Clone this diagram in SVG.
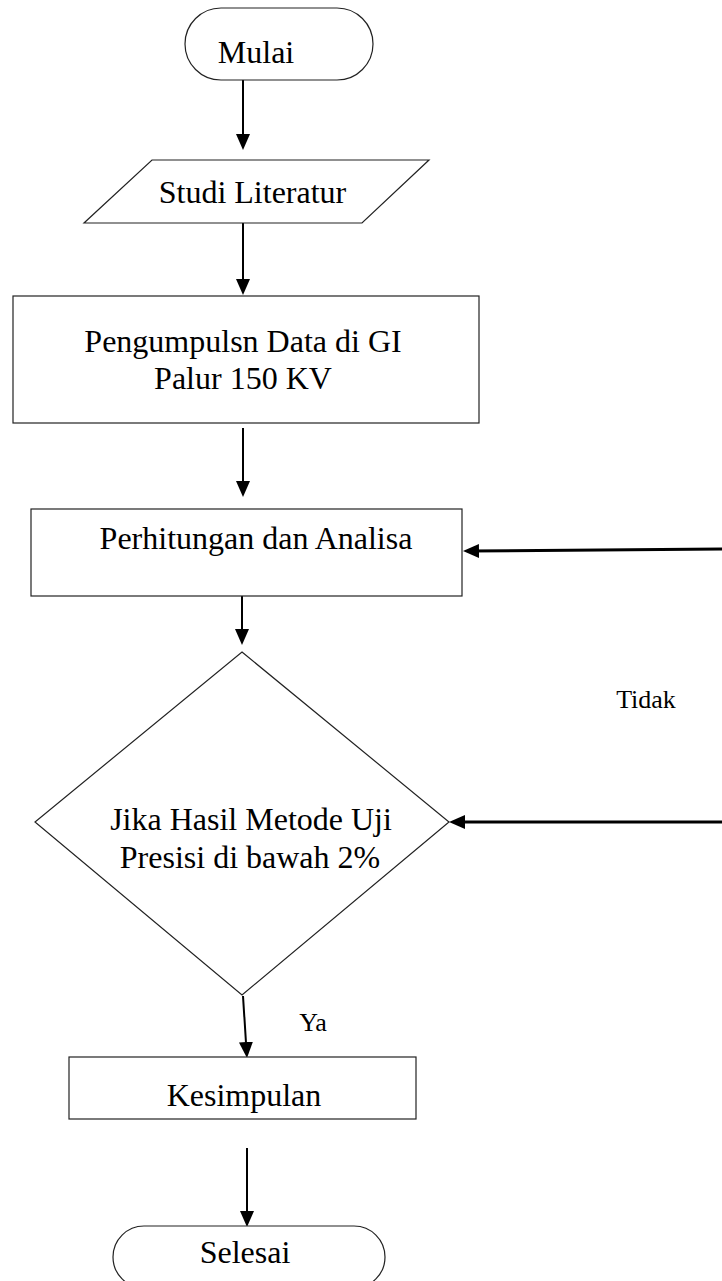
<svg xmlns="http://www.w3.org/2000/svg" width="722" height="1281" viewBox="0 0 722 1281">
<style>
.shape{fill:#fff;stroke:#222;stroke-width:1.2}
.lbl{font-family:"Liberation Serif","Times New Roman",serif;font-size:32px;fill:#000;text-anchor:middle}
.sm{font-family:"Liberation Serif","Times New Roman",serif;font-size:26px;fill:#000;text-anchor:middle}
.conn{fill:none;stroke:#000;stroke-width:2;marker-end:url(#ah)}
.thick{stroke-width:3}
</style>
<defs>
<marker id="ah" markerUnits="userSpaceOnUse" markerWidth="16" markerHeight="16" refX="10" refY="7" orient="auto">
<path d="M0,0 L16,7 L0,14 z" fill="#000"/>
</marker>
</defs>
<rect width="722" height="1281" fill="#fff"/>
<g id="connectors">
<line class="conn" x1="243" y1="80" x2="243" y2="144"/>
<line class="conn" x1="243" y1="223" x2="243" y2="289"/>
<line class="conn" x1="243" y1="428" x2="243" y2="491"/>
<line class="conn" x1="242" y1="596" x2="242" y2="639"/>
<line class="conn" x1="243" y1="996" x2="246.6" y2="1052"/>
<line class="conn" x1="247" y1="1148" x2="247" y2="1221"/>
<line class="conn thick" x1="722" y1="549" x2="469" y2="551"/>
<line class="conn thick" x1="722" y1="822" x2="455" y2="822"/>
</g>
<g id="mulai">
<rect class="shape" x="185" y="8" width="188" height="72" rx="36" ry="36"/>
<text class="lbl" x="256" y="63">Mulai</text>
</g>
<g id="studi">
<polygon class="shape" points="152,160 429,160 362,223 84,223"/>
<text class="lbl" x="252.5" y="203">Studi Literatur</text>
</g>
<g id="pengumpulan">
<rect class="shape" x="13" y="296" width="466" height="127"/>
<text class="lbl" x="243" y="352">Pengumpulsn Data di GI</text>
<text class="lbl" x="243" y="389">Palur 150 KV</text>
</g>
<g id="perhitungan">
<rect class="shape" x="31" y="509" width="431" height="87"/>
<text class="lbl" x="256" y="549">Perhitungan dan Analisa</text>
</g>
<g id="keputusan">
<polygon class="shape" points="242,652 449,822 242,995 35,822"/>
<text class="lbl" x="251" y="830">Jika Hasil Metode Uji</text>
<text class="lbl" x="250" y="868">Presisi di bawah 2%</text>
</g>
<g id="label-tidak">
<text class="sm" x="646" y="708">Tidak</text>
</g>
<g id="label-ya">
<text class="sm" x="313" y="1031">Ya</text>
</g>
<g id="kesimpulan">
<rect class="shape" x="69" y="1057" width="347" height="62"/>
<text class="lbl" x="244" y="1106">Kesimpulan</text>
</g>
<g id="selesai">
<rect class="shape" x="113" y="1226" width="272" height="62" rx="31" ry="31"/>
<text class="lbl" x="245" y="1263">Selesai</text>
</g>
</svg>
